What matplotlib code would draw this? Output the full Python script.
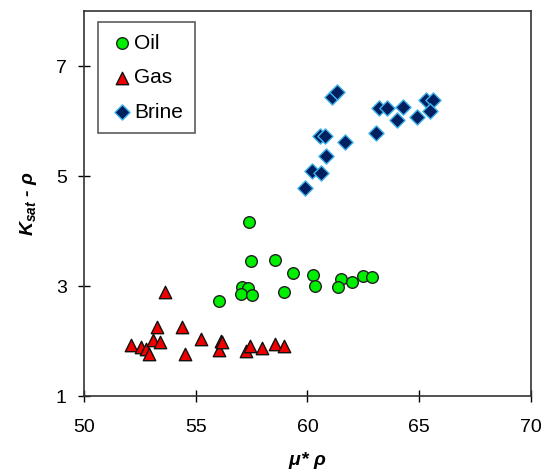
import matplotlib
matplotlib.use("Agg")
import matplotlib.pyplot as plt

plt.rcParams['font.family'] = ['Liberation Sans', 'DejaVu Sans']
plt.rcParams['mathtext.fontset'] = 'custom'
plt.rcParams['mathtext.it'] = 'Liberation Sans:bold:italic'
plt.rcParams['mathtext.rm'] = 'Liberation Sans:bold:italic'
plt.rcParams['mathtext.bf'] = 'Liberation Sans:bold:italic'

# Oil
oil_x = [57.38, 57.47, 58.53, 59.37, 60.26, 60.32, 61.51, 61.36, 61.99, 62.47, 62.90,
         56.05, 57.08, 57.35, 57.02, 57.53, 58.95]
oil_y = [4.16, 3.45, 3.48, 3.23, 3.20, 3.00, 3.12, 2.99, 3.08, 3.19, 3.17,
         2.73, 2.98, 2.97, 2.86, 2.83, 2.90]

# Gas
gas_x = [53.64, 53.27, 54.38, 52.09, 52.56, 52.77, 52.91, 53.07, 53.40, 54.52,
         55.22, 56.13, 56.04, 56.17, 57.23, 57.43, 57.98, 58.53, 58.96]
gas_y = [2.89, 2.26, 2.26, 1.92, 1.90, 1.85, 1.76, 2.01, 1.98, 1.76,
         2.04, 2.00, 1.84, 1.98, 1.82, 1.91, 1.88, 1.94, 1.91]

# Brine
brine_x = [59.89, 60.19, 60.62, 60.83, 60.56, 60.78, 61.66, 61.08, 61.30,
           63.05, 63.21, 63.54, 64.29, 64.00, 64.90, 65.29, 65.63, 65.48]
brine_y = [4.78, 5.10, 5.05, 5.36, 5.73, 5.73, 5.62, 6.43, 6.52,
           5.79, 6.24, 6.24, 6.26, 6.02, 6.07, 6.38, 6.38, 6.18]

x_ticks = [50, 55, 60, 65, 70]
y_ticks = [1, 3, 5, 7]

fig = plt.figure(figsize=(5.47, 4.71), dpi=100)
ax = fig.add_axes([0.1536, 0.1592, 0.8171, 0.8174])

ax.scatter(oil_x, oil_y, s=70, marker='o', facecolor='#00ee00', edgecolor='#222222',
           linewidth=1.0, label='Oil', zorder=3)
ax.scatter(gas_x, gas_y, s=80, marker='^', facecolor='#ee0000', edgecolor='#111111',
           linewidth=1.0, label='Gas', zorder=3)
ax.scatter(brine_x, brine_y, s=60, marker='D', facecolor='#00205f', edgecolor='#3fb4ee',
           linewidth=1.0, label='Brine', zorder=3)

ax.set_xlim(50, 70)
ax.set_ylim(1, 8)
ax.set_xticks(x_ticks)
ax.set_yticks(y_ticks)
ax.tick_params(direction='inout', length=9, width=1.0, labelsize=14, pad=8)
ax.tick_params(axis='x', pad=12)
for s in ax.spines.values():
    s.set_linewidth(1.2)
    s.set_color('#333333')

ax.set_xlabel(r'$\mu$* $\rho$', fontsize=14, fontweight='bold',
              style='italic', labelpad=10)
ax.set_ylabel(r'$K_{sat}$ - $\rho$', fontsize=14,
              fontweight='bold', style='italic', labelpad=12)

leg = ax.legend(loc='upper left', bbox_to_anchor=(0.031, 0.971), borderaxespad=0,
                fontsize=15, frameon=True, fancybox=False, edgecolor='#333333',
                labelspacing=0.75, handletextpad=0.0, handlelength=1.2,
                borderpad=0.55, scatterpoints=1)
leg.get_frame().set_linewidth(1.2)

fig.savefig('out.png', dpi=100)
